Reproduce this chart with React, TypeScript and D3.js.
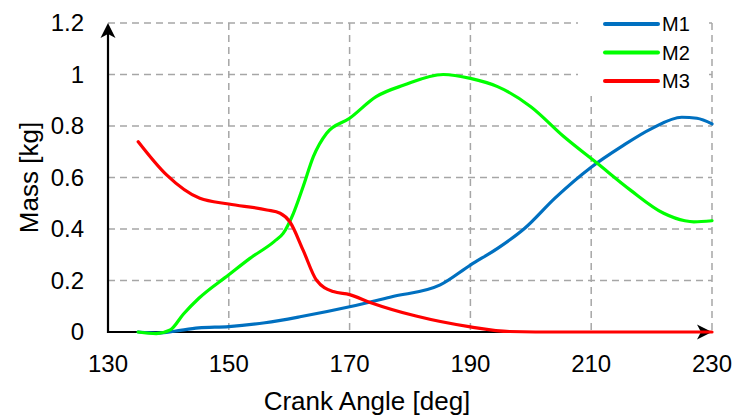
import React from "react";
import * as d3 from "d3";

// Crank angle ticks and mass ticks
const xTicks = [130, 150, 170, 190, 210, 230];
const yTicks = [0, 0.2, 0.4, 0.6, 0.8, 1, 1.2];
const yTickLabels = ["0", "0.2", "0.4", "0.6", "0.8", "1", "1.2"];

// Series: crank angle [deg] and mass [kg]
const m1Angle = [135, 138.5, 141, 145, 150, 156, 162, 170, 177, 185, 190, 194.5, 199, 204, 210, 215, 220, 225, 227.5, 230];
const m1Mass = [0, -0.004, 0.003, 0.016, 0.021, 0.036, 0.06, 0.098, 0.137, 0.183, 0.26, 0.325, 0.403, 0.52, 0.64, 0.72, 0.79, 0.834, 0.83, 0.808];

const m2Angle = [135, 138, 140.3, 142.5, 145, 150, 153.5, 157.5, 159, 160.7, 162.3, 164, 166.2, 170, 174.4, 179, 185.5, 190, 194.5, 200, 205.5, 211, 216.5, 222, 225.5, 227, 230];
const m2Mass = [0, -0.006, 0.008, 0.07, 0.13, 0.222, 0.286, 0.351, 0.383, 0.461, 0.564, 0.681, 0.772, 0.83, 0.914, 0.959, 1.0, 0.985, 0.953, 0.875, 0.758, 0.655, 0.551, 0.461, 0.432, 0.428, 0.432];

const m3Angle = [135, 139.7, 145.2, 150, 156.3, 158.5, 160.1, 162.3, 164.5, 167.3, 170, 173.4, 181, 190, 196.5, 205, 230];
const m3Mass = [0.739, 0.61, 0.519, 0.497, 0.474, 0.461, 0.428, 0.318, 0.202, 0.157, 0.145, 0.115, 0.062, 0.02, 0.002, 0, 0];

const seriesNames = ["M1", "M2", "M3"];
const seriesColors = ["#0070C0", "#00FF00", "#FF0000"];

const W = 734;
const H = 416;
const FONT = "'Liberation Sans', Arial, sans-serif";

export default function App() {
  const x = d3.scaleLinear().domain([130, 230]).range([108, 712]);
  const y = d3.scaleLinear().domain([0, 1.2]).range([332, 23]);

  const line = d3
    .line<[number, number]>()
    .x((d) => x(d[0]))
    .y((d) => y(d[1]))
    .curve(d3.curveMonotoneX);

  const series = [
    { angle: m1Angle, mass: m1Mass },
    { angle: m2Angle, mass: m2Mass },
    { angle: m3Angle, mass: m3Mass },
  ];

  const x0 = x(130);
  const x1 = x(230);
  const yBottom = y(0);
  const yTop = y(1.2);

  const grid = "#A6A6A6";

  return (
    <svg
      width={W}
      height={H}
      style={{ position: "fixed", left: 0, top: 0, background: "#fff" }}
      fontFamily={FONT}
    >
      <rect x={0} y={0} width={W} height={H} fill="#fff" />
      {/* horizontal gridlines */}
      {yTicks.slice(1).map((t) => (
        <line
          key={"h" + t}
          x1={x0}
          x2={x1}
          y1={y(t)}
          y2={y(t)}
          stroke={grid}
          strokeWidth={1.5}
          strokeDasharray="7,5"
        />
      ))}
      {/* vertical gridlines */}
      {xTicks.slice(1).map((t) => (
        <line
          key={"v" + t}
          x1={x(t)}
          x2={x(t)}
          y1={yTop}
          y2={yBottom}
          stroke={grid}
          strokeWidth={1.5}
          strokeDasharray="7,5"
        />
      ))}

      {/* legend background */}
      <rect x={578} y={0} width={131} height={96} fill="#fff" />

      {/* axes with arrowheads */}
      <line x1={x0} x2={x0} y1={yBottom + 1} y2={yTop + 4} stroke="#000" strokeWidth={2.2} />
      <line x1={x0 - 1} x2={x1 - 4} y1={yBottom} y2={yBottom} stroke="#000" strokeWidth={2.2} />
      <path
        d={`M${x0},${yTop} L${x0 - 7.5},${yTop + 15} L${x0},${yTop + 11} L${x0 + 7.5},${yTop + 15} Z`}
        fill="#000"
      />
      <path
        d={`M${x1},${yBottom} L${x1 - 15},${yBottom - 7.5} L${x1 - 11},${yBottom} L${x1 - 15},${yBottom + 7.5} Z`}
        fill="#000"
      />

      {/* series */}
      {series.map((s, i) => (
        <path
          key={seriesNames[i]}
          d={line(s.angle.map((a, j) => [a, s.mass[j]] as [number, number])) || ""}
          fill="none"
          stroke={seriesColors[i]}
          strokeWidth={3.2}
          strokeLinejoin="round"
          strokeLinecap="round"
        />
      ))}

      {/* y tick labels */}
      {yTicks.map((t, i) => (
        <text
          key={"yl" + t}
          x={84}
          y={y(t)}
          dy="0.35em"
          textAnchor="end"
          fontSize={24}
          fill="#000"
        >
          {yTickLabels[i]}
        </text>
      ))}
      {/* x tick labels */}
      {xTicks.map((t) => (
        <text key={"xl" + t} x={x(t)} y={372} textAnchor="middle" fontSize={24} fill="#000">
          {t}
        </text>
      ))}

      {/* axis titles */}
      <text x={W / 2} y={410} textAnchor="middle" fontSize={26} fill="#000">
        Crank Angle [deg]
      </text>
      <text
        transform={`translate(38,${(yTop + yBottom) / 2}) rotate(-90)`}
        textAnchor="middle"
        fontSize={26}
        fill="#000"
      >
        Mass [kg]
      </text>

      {/* legend */}
      {seriesNames.map((n, i) => (
        <g key={"lg" + n}>
          <line
            x1={605}
            x2={658}
            y1={24 + i * 28.5}
            y2={24 + i * 28.5}
            stroke={seriesColors[i]}
            strokeWidth={4}
            strokeLinecap="round"
          />
          <text x={662} y={24 + i * 28.5} dy="0.35em" fontSize={20} fill="#000">
            {n}
          </text>
        </g>
      ))}
    </svg>
  );
}
